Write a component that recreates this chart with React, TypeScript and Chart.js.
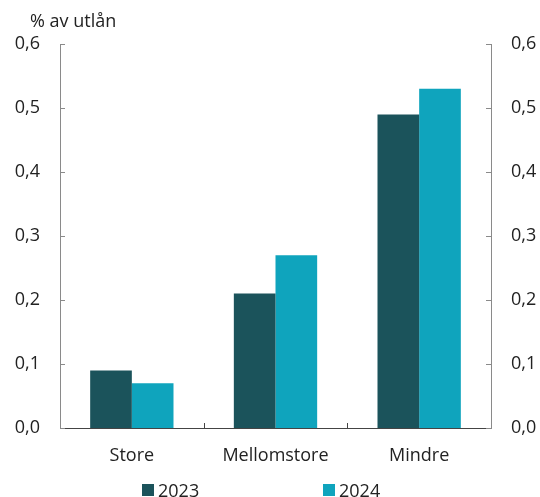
import React, { useEffect, useRef } from "react";
import { Chart, registerables } from "chart.js";

Chart.register(...registerables);

const categories = ["Store", "Mellomstore", "Mindre"];
const series2023 = [0.09, 0.21, 0.49];
const series2024 = [0.07, 0.27, 0.53];
const seriesLabels = ["2023", "2024"];
const seriesColors = ["#1b535b", "#0fa4bd"];
const yMin = 0;
const yMax = 0.6;
const yStep = 0.1;
const unitLabel = "% av utlån";

const FONT = "'Open Sans', sans-serif";
const FS = 18;

const fmt = (v: number) => v.toFixed(1).replace(".", ",");

const inwardTicks = {
  id: "inwardTicks",
  afterDraw(chart: any) {
    const { ctx, chartArea } = chart;
    const y = chart.scales.y;
    const x = chart.scales.x;
    ctx.save();
    ctx.lineWidth = 1;
    ctx.strokeStyle = "#8a8a8a";
    y.ticks.forEach((t: any) => {
      const py = Math.round(y.getPixelForValue(t.value)) + 0.5;
      ctx.beginPath();
      ctx.moveTo(chartArea.left, py);
      ctx.lineTo(chartArea.left + 5, py);
      ctx.moveTo(chartArea.right - 5, py);
      ctx.lineTo(chartArea.right, py);
      ctx.stroke();
    });
    ctx.strokeStyle = "#444";
    for (let i = 0; i < categories.length - 1; i++) {
      const px = Math.round((x.getPixelForValue(i) + x.getPixelForValue(i + 1)) / 2) + 0.5;
      ctx.beginPath();
      ctx.moveTo(px, chartArea.bottom);
      ctx.lineTo(px, chartArea.bottom - 5);
      ctx.stroke();
    }
    ctx.restore();
  },
};

export default function App() {
  const ref = useRef<HTMLCanvasElement | null>(null);

  useEffect(() => {
    document.body.style.margin = "0";
    const chart = new Chart(ref.current as HTMLCanvasElement, {
      type: "bar",
      data: {
        labels: categories,
        datasets: [
          {
            label: seriesLabels[0],
            data: series2023,
            backgroundColor: seriesColors[0],
            yAxisID: "y",
          },
          {
            label: seriesLabels[1],
            data: series2024,
            backgroundColor: seriesColors[1],
            yAxisID: "y",
          },
        ],
      },
      options: {
        animation: false,
        responsive: false,
        maintainAspectRatio: false,
        layout: { padding: { top: 44, left: 0, right: 0, bottom: 0 } },
        datasets: { bar: { barPercentage: 1, categoryPercentage: 0.58 } },
        plugins: {
          legend: { display: false },
          tooltip: { enabled: false },
        },
        scales: {
          x: {
            grid: { display: false, drawTicks: false },
            border: { display: true, color: "#444", width: 1 },
            ticks: {
              color: "#222",
              font: { family: FONT, size: FS },
              padding: 17,
            },
            afterFit: (s: any) => {
              s.height = 69;
            },
          },
          y: {
            position: "left",
            min: yMin,
            max: yMax,
            grid: { display: false, drawTicks: false },
            border: { display: true, color: "#8a8a8a", width: 1 },
            ticks: {
              stepSize: yStep,
              color: "#222",
              font: { family: FONT, size: FS },
              padding: 20,
              callback: (v: any) => fmt(Number(v)),
            },
            afterFit: (s: any) => {
              s.width = 60;
            },
          },
          y2: {
            position: "right",
            min: yMin,
            max: yMax,
            grid: { display: false, drawTicks: false },
            border: { display: true, color: "#8a8a8a", width: 1 },
            ticks: {
              stepSize: yStep,
              color: "#222",
              font: { family: FONT, size: FS },
              padding: 20,
              callback: (v: any) => fmt(Number(v)),
            },
            afterFit: (s: any) => {
              s.width = 49;
            },
          },
        },
      },
      plugins: [inwardTicks],
    } as any);
    return () => chart.destroy();
  }, []);

  return (
    <div style={{ position: "relative", width: 540, height: 497, fontFamily: FONT }}>
      <canvas ref={ref} width={540} height={497} style={{ display: "block" }} />
      <div
        style={{
          position: "absolute",
          left: 30,
          top: 9,
          fontSize: FS,
          color: "#222",
          lineHeight: "22px",
        }}
      >
        {unitLabel}
      </div>
      {seriesLabels.map((lab, i) => (
        <div
          key={lab}
          style={{
            position: "absolute",
            left: i === 0 ? 142 : 323,
            top: 479,
            display: "flex",
            alignItems: "center",
            fontSize: FS,
            color: "#222",
            lineHeight: "22px",
          }}
        >
          <span
            style={{
              display: "inline-block",
              width: 12,
              height: 12,
              background: seriesColors[i],
              marginRight: 4,
            }}
          />
          {lab}
        </div>
      ))}
    </div>
  );
}
